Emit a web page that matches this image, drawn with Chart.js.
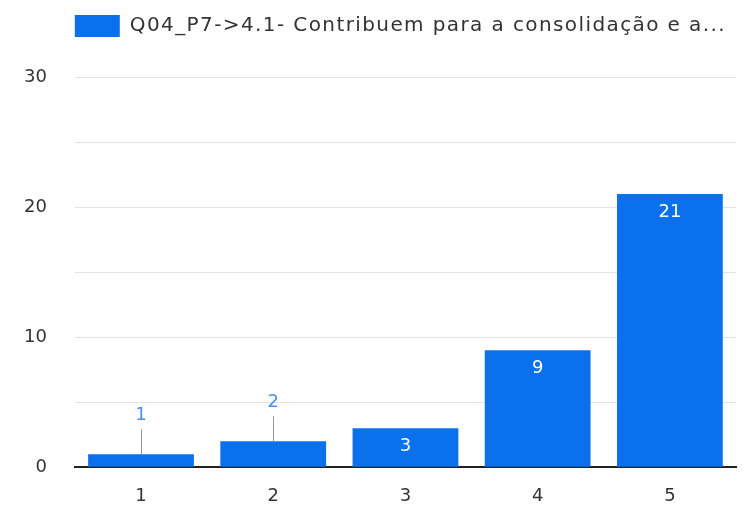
<!DOCTYPE html>
<html>
<head>
<meta charset="utf-8">
<script src="https://cdn.jsdelivr.net/npm/chart.js@4"></script>
<style>
  html, body { margin: 0; padding: 0; background: #fff; }
  #wrap { width: 744px; height: 506px; }
</style>
</head>
<body>
<div id="wrap"><canvas id="chart"></canvas></div>
<script>
const categories = ['1', '2', '3', '4', '5'];
const counts = [1, 2, 3, 9, 21];
const seriesName = 'Q04_P7->4.1- Contribuem para a consolidação e a...';
const yTicks = [0, 10, 20, 30];

const barBlue = '#0a70ec';
const fontFamily = "'DejaVu Sans', 'Noto Sans', sans-serif";

// value labels: white inside tall bars, blue above short ones with a leader line
const valueLabels = {
  id: 'valueLabels',
  afterDatasetsDraw(chart) {
    const ctx = chart.ctx;
    const meta = chart.getDatasetMeta(0);
    ctx.save();
    ctx.font = '18px ' + fontFamily;
    ctx.textAlign = 'center';
    ctx.textBaseline = 'middle';
    meta.data.forEach((bar, i) => {
      const h = bar.base - bar.y;
      const txt = String(counts[i]);
      if (h < 30) {
        const ly = bar.y - 39;
        ctx.strokeStyle = '#999';
        ctx.lineWidth = 1;
        ctx.beginPath();
        ctx.moveTo(Math.round(bar.x) + 0.5, bar.y);
        ctx.lineTo(Math.round(bar.x) + 0.5, ly + 14);
        ctx.stroke();
        ctx.fillStyle = '#4a8ff0';
        ctx.fillText(txt, bar.x, ly);
      } else {
        ctx.fillStyle = '#ffffff';
        ctx.fillText(txt, bar.x, bar.y + 18);
      }
    });
    ctx.restore();
  }
};

// extra room under the legend, and a slightly wider legend text
const legendTweak = {
  id: 'legendTweak',
  beforeInit(chart) {
    const lg = chart.legend;
    const fit = lg.fit;
    const draw = lg.draw;
    lg.fit = function () {
      this.ctx.save();
      this.ctx.letterSpacing = '1.4px';
      fit.call(this);
      this.ctx.restore();
      this.height += 30;
    };
    lg.draw = function () {
      this.ctx.save();
      this.ctx.letterSpacing = '1.4px';
      draw.call(this);
      this.ctx.restore();
    };
  }
};

new Chart(document.getElementById('chart'), {
  type: 'bar',
  data: {
    labels: categories,
    datasets: [{
      label: seriesName,
      data: counts,
      backgroundColor: barBlue,
      barPercentage: 0.8,
      categoryPercentage: 1.0
    }]
  },
  options: {
    responsive: true,
    maintainAspectRatio: false,
    animation: false,
    layout: { padding: { left: -4, right: 8, top: 5, bottom: -19 } },
    plugins: {
      legend: {
        align: 'end',
        labels: {
          boxWidth: 45,
          boxHeight: 22,
          color: '#333',
          font: { family: fontFamily, size: 20 }
        }
      },
      tooltip: { enabled: false }
    },
    scales: {
      x: {
        grid: { display: false, drawTicks: false },
        border: { color: '#222', width: 2 },
        ticks: {
          color: '#333',
          padding: 18,
          font: { family: fontFamily, size: 18 }
        }
      },
      y: {
        min: 0,
        max: 30,
        border: { display: false },
        grid: { color: '#e2e2e2', drawTicks: false, lineWidth: 1 },
        ticks: {
          stepSize: 5,
          padding: 28,
          color: '#333',
          font: { family: fontFamily, size: 18 },
          callback: (v) => yTicks.includes(v) ? String(v) : ''
        }
      }
    }
  },
  plugins: [valueLabels, legendTweak]
});
</script>
</body>
</html>
